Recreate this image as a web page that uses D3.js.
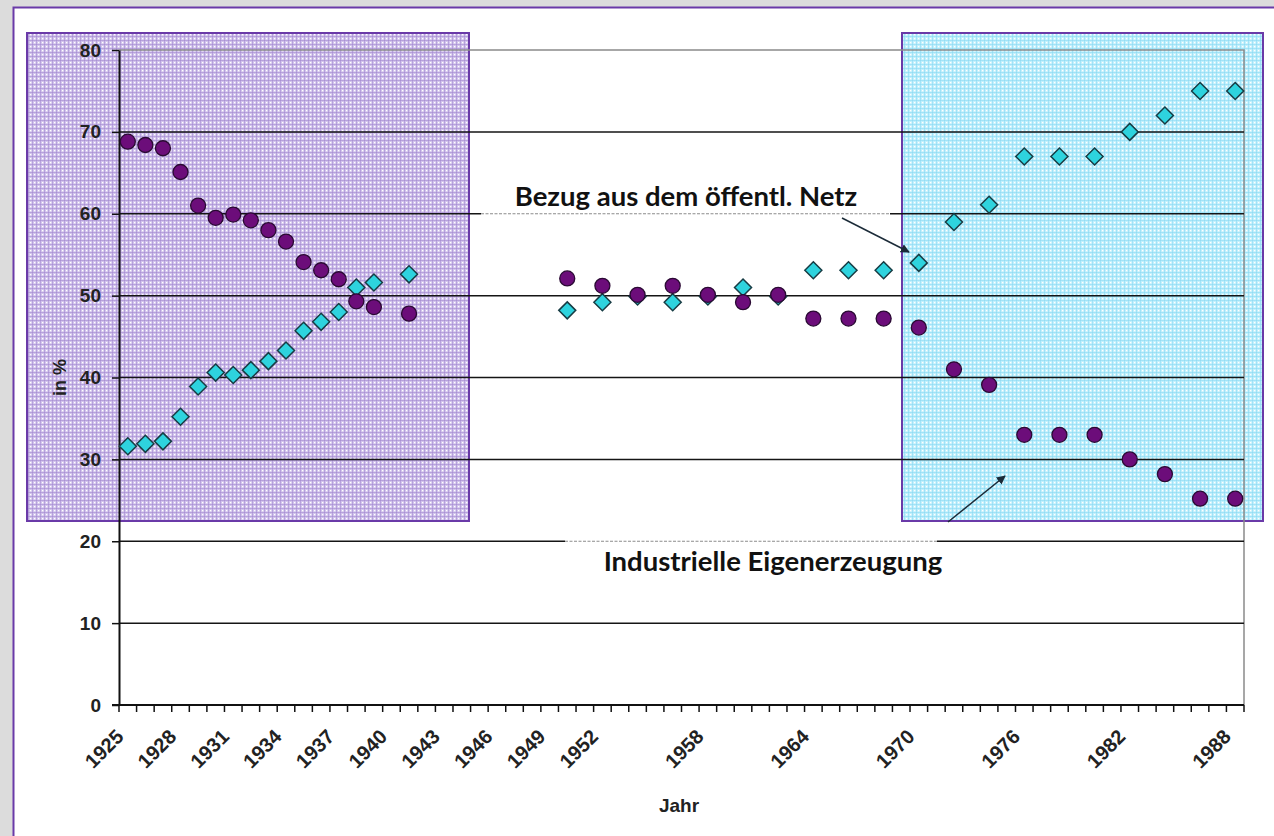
<!DOCTYPE html>
<html>
<head>
<meta charset="utf-8">
<script src="https://cdn.jsdelivr.net/npm/d3@7"></script>
<style>
  body { margin: 0; background: #dcdcdc; }
  svg { display: block; }
</style>
</head>
<body>
<div id="chart"></div>
<script>
// categories on the x axis (one per year) and the years that get a label
var categories = [
  1925, 1926, 1927, 1928, 1929, 1930, 1931, 1932, 1933, 1934, 1935, 1936, 1937, 1938, 1939, 1940,
  1941, 1942, 1943, 1944, 1945, 1946, 1947, 1948, 1949, 1950, 1951, 1952, 1953, 1954, 1955, 1956,
  1957, 1958, 1959, 1960, 1961, 1962, 1963, 1964, 1965, 1966, 1967, 1968, 1969, 1970, 1971, 1972,
  1973, 1974, 1975, 1976, 1977, 1978, 1979, 1980, 1981, 1982, 1983, 1984, 1985, 1986, 1987, 1988
];
var tickYears = [1925, 1928, 1931, 1934, 1937, 1940, 1943, 1946, 1949, 1952, 1958, 1964, 1970, 1976, 1982, 1988];
var yTicks = [0, 10, 20, 30, 40, 50, 60, 70, 80];

// years with data
var dataYears = [
  1925, 1926, 1927, 1928, 1929, 1930, 1931, 1932, 1933, 1934, 1935, 1936, 1937, 1938, 1939, 1941,
  1950, 1952, 1954, 1956, 1958, 1960, 1962, 1964, 1966, 1968,
  1970, 1972, 1974, 1976, 1978, 1980, 1982, 1984, 1986, 1988
];
// Industrielle Eigenerzeugung (circles), in %
var eigen = [
  68.8, 68.4, 68.0, 65.1, 61.0, 59.5, 59.9, 59.2, 58.0, 56.6, 54.1, 53.1, 52.0, 49.3, 48.6, 47.8,
  52.1, 51.2, 50.1, 51.2, 50.1, 49.2, 50.1, 47.2, 47.2, 47.2,
  46.1, 41.0, 39.1, 33.0, 33.0, 33.0, 30.0, 28.2, 25.2, 25.2
];
// Bezug aus dem oeffentl. Netz (diamonds), in %
var netz = [
  31.6, 31.9, 32.2, 35.2, 38.9, 40.6, 40.3, 40.9, 42.0, 43.3, 45.7, 46.8, 48.0, 51.0, 51.6, 52.6,
  48.2, 49.2, 49.9, 49.2, 49.9, 51.0, 49.9, 53.1, 53.1, 53.1,
  54.0, 59.0, 61.1, 67.0, 67.0, 67.0, 70.0, 72.0, 75.0, 75.0
];

var W = 1274, H = 836;
var margin = { top: 50, left: 119, right: 30, bottom: 131 },
  width = W - margin.left - margin.right,
  height = H - margin.top - margin.bottom;

var svg = d3.select("#chart").append("svg")
  .attr("width", W)
  .attr("height", H);

var defs = svg.append("defs");
function plaid(id, base, line, light) {
  var p = defs.append("pattern")
    .attr("id", id)
    .attr("width", 4).attr("height", 4)
    .attr("patternUnits", "userSpaceOnUse");
  p.append("rect").attr("width", 4).attr("height", 4).attr("fill", base);
  p.append("rect").attr("x", 0).attr("y", 0).attr("width", 4).attr("height", 1).attr("fill", line).attr("opacity", 0.55);
  p.append("rect").attr("x", 0).attr("y", 0).attr("width", 1).attr("height", 4).attr("fill", line).attr("opacity", 0.55);
  p.append("rect").attr("x", 2).attr("y", 2).attr("width", 1.3).attr("height", 1.3).attr("fill", light);
}
plaid("purplePlaid", "#d2c4ec", "#a086d0", "#ffffff");
plaid("cyanPlaid", "#c2f0fc", "#88d9f1", "#ffffff");

defs.append("marker")
  .attr("id", "arrow")
  .attr("viewBox", "0 0 10 10")
  .attr("refX", 9).attr("refY", 5)
  .attr("markerWidth", 9).attr("markerHeight", 9)
  .attr("markerUnits", "userSpaceOnUse")
  .attr("orient", "auto")
  .append("path")
  .attr("d", "M0,0 L10,5 L0,10 z")
  .attr("fill", "#1b2b38");

// slide frame
svg.append("rect")
  .attr("x", 13.5).attr("y", 7.5)
  .attr("width", 1300).attr("height", 900)
  .attr("fill", "#ffffff")
  .attr("stroke", "#6a3aa8")
  .attr("stroke-width", 2);

// scales
var x = d3.scaleBand()
  .domain(categories)
  .range([margin.left, margin.left + width])
  .padding(0);
var y = d3.scaleLinear()
  .domain([0, 80])
  .range([margin.top + height, margin.top]);

function cx(yr) { return x(yr) + x.bandwidth() / 2; }

// highlighted periods
svg.append("rect")
  .attr("x", 27).attr("y", 33)
  .attr("width", 442).attr("height", 488)
  .attr("fill", "url(#purplePlaid)")
  .attr("stroke", "#6a3aa8")
  .attr("stroke-width", 2);
svg.append("rect")
  .attr("x", 902).attr("y", 33)
  .attr("width", 361).attr("height", 488)
  .attr("fill", "url(#cyanPlaid)")
  .attr("stroke", "#6a3aa8")
  .attr("stroke-width", 2);

// plot border (top and right)
svg.append("path")
  .attr("d", "M" + margin.left + "," + y(80) + "H" + (margin.left + width) + "V" + y(0))
  .attr("fill", "none")
  .attr("stroke", "#8a8a8a")
  .attr("stroke-width", 1.5);

// gridlines
svg.append("g")
  .selectAll("line")
  .data(yTicks.filter(function (d) { return d > 0 && d < 80; }))
  .enter()
  .append("line")
  .attr("x1", margin.left)
  .attr("x2", margin.left + width)
  .attr("y1", function (d) { return y(d); })
  .attr("y2", function (d) { return y(d); })
  .attr("stroke", "#151515")
  .attr("stroke-width", 1.5);

// text boxes lying over the gridlines
var boxes = [
  { x1: 481, x2: 890, v: 60 },
  { x1: 565, x2: 937, v: 20 }
];
boxes.forEach(function (b) {
  svg.append("rect")
    .attr("x", b.x1).attr("y", y(b.v) - 2)
    .attr("width", b.x2 - b.x1).attr("height", 4)
    .attr("fill", "#ffffff");
  svg.append("line")
    .attr("x1", b.x1).attr("x2", b.x2)
    .attr("y1", y(b.v)).attr("y2", y(b.v))
    .attr("stroke", "#8c8c8c")
    .attr("stroke-width", 1.2)
    .attr("stroke-dasharray", "3,1.5");
});

var tickFont = "'Liberation Sans', Arial, sans-serif";

// y axis
var yAxis = svg.append("g")
  .attr("transform", "translate(" + margin.left + ",0)")
  .call(d3.axisLeft(y).tickValues(yTicks).tickSize(7).tickSizeOuter(0).tickPadding(11));
yAxis.select(".domain").attr("stroke", "#111").attr("stroke-width", 2);
yAxis.selectAll(".tick line").attr("stroke", "#111").attr("stroke-width", 1.5);
yAxis.selectAll("text")
  .attr("fill", "#222")
  .style("font-family", tickFont)
  .style("font-size", "19px")
  .style("font-weight", "bold");

// x axis
var xAxis = svg.append("g")
  .attr("transform", "translate(0," + y(0) + ")");
xAxis.append("line")
  .attr("x1", margin.left - 7).attr("x2", margin.left + width)
  .attr("stroke", "#111").attr("stroke-width", 2);
xAxis.selectAll("line.tk")
  .data(categories.concat(["end"]))
  .enter()
  .append("line")
  .attr("class", "tk")
  .attr("x1", function (d) { return d === "end" ? margin.left + width : x(d); })
  .attr("x2", function (d) { return d === "end" ? margin.left + width : x(d); })
  .attr("y1", 0).attr("y2", 7)
  .attr("stroke", "#111").attr("stroke-width", 1.5);
xAxis.selectAll("text")
  .data(tickYears)
  .enter()
  .append("text")
  .attr("transform", function (d) { return "translate(" + (cx(d) - 3) + ",33)rotate(-45)"; })
  .attr("text-anchor", "end")
  .attr("fill", "#222")
  .style("font-family", tickFont)
  .style("font-size", "20px")
  .style("font-weight", "bold")
  .text(function (d) { return d; });

// axis titles
svg.append("text")
  .attr("transform", "translate(66," + y(40) + ")rotate(-90)")
  .attr("text-anchor", "middle")
  .attr("fill", "#222")
  .style("font-family", tickFont)
  .style("font-size", "18px")
  .style("font-weight", "bold")
  .text("in %");
svg.append("text")
  .attr("x", 679).attr("y", 812)
  .attr("text-anchor", "middle")
  .attr("fill", "#222")
  .style("font-family", tickFont)
  .style("font-size", "19px")
  .style("font-weight", "bold")
  .text("Jahr");

// points
var points = dataYears.map(function (yr, i) {
  return { year: yr, eigen: eigen[i], netz: netz[i] };
});
var dr = 8.5;
svg.append("g")
  .selectAll("path")
  .data(points)
  .enter()
  .append("path")
  .attr("d", function (d) {
    var px = cx(d.year), py = y(d.netz);
    return "M" + px + "," + (py - dr) + "L" + (px + dr) + "," + py +
      "L" + px + "," + (py + dr) + "L" + (px - dr) + "," + py + "Z";
  })
  .attr("fill", "#2ed3de")
  .attr("stroke", "#173c44")
  .attr("stroke-width", 1.5);
svg.append("g")
  .selectAll("circle")
  .data(points)
  .enter()
  .append("circle")
  .attr("cx", function (d) { return cx(d.year); })
  .attr("cy", function (d) { return y(d.eigen); })
  .attr("r", 7.5)
  .attr("fill", "#6c0d7a")
  .attr("stroke", "#2a0a33")
  .attr("stroke-width", 1.3);

// annotations
var noteFont = "Lato, 'DejaVu Sans', sans-serif";
svg.append("text")
  .attr("x", 686).attr("y", 206)
  .attr("text-anchor", "middle")
  .attr("fill", "#111")
  .style("font-family", noteFont)
  .style("font-size", "27.5px")
  .style("font-weight", "bold")
  .text("Bezug aus dem öffentl. Netz");
svg.append("text")
  .attr("x", 773).attr("y", 571)
  .attr("text-anchor", "middle")
  .attr("fill", "#111")
  .style("font-family", noteFont)
  .style("font-size", "27.5px")
  .style("font-weight", "bold")
  .text("Industrielle Eigenerzeugung");

svg.append("line")
  .attr("x1", 842).attr("y1", 218)
  .attr("x2", 909).attr("y2", 252)
  .attr("stroke", "#1b2b38").attr("stroke-width", 1.5)
  .attr("marker-end", "url(#arrow)");
svg.append("line")
  .attr("x1", 948).attr("y1", 522)
  .attr("x2", 1005).attr("y2", 476)
  .attr("stroke", "#1b2b38").attr("stroke-width", 1.5)
  .attr("marker-end", "url(#arrow)");
</script>
</body>
</html>
